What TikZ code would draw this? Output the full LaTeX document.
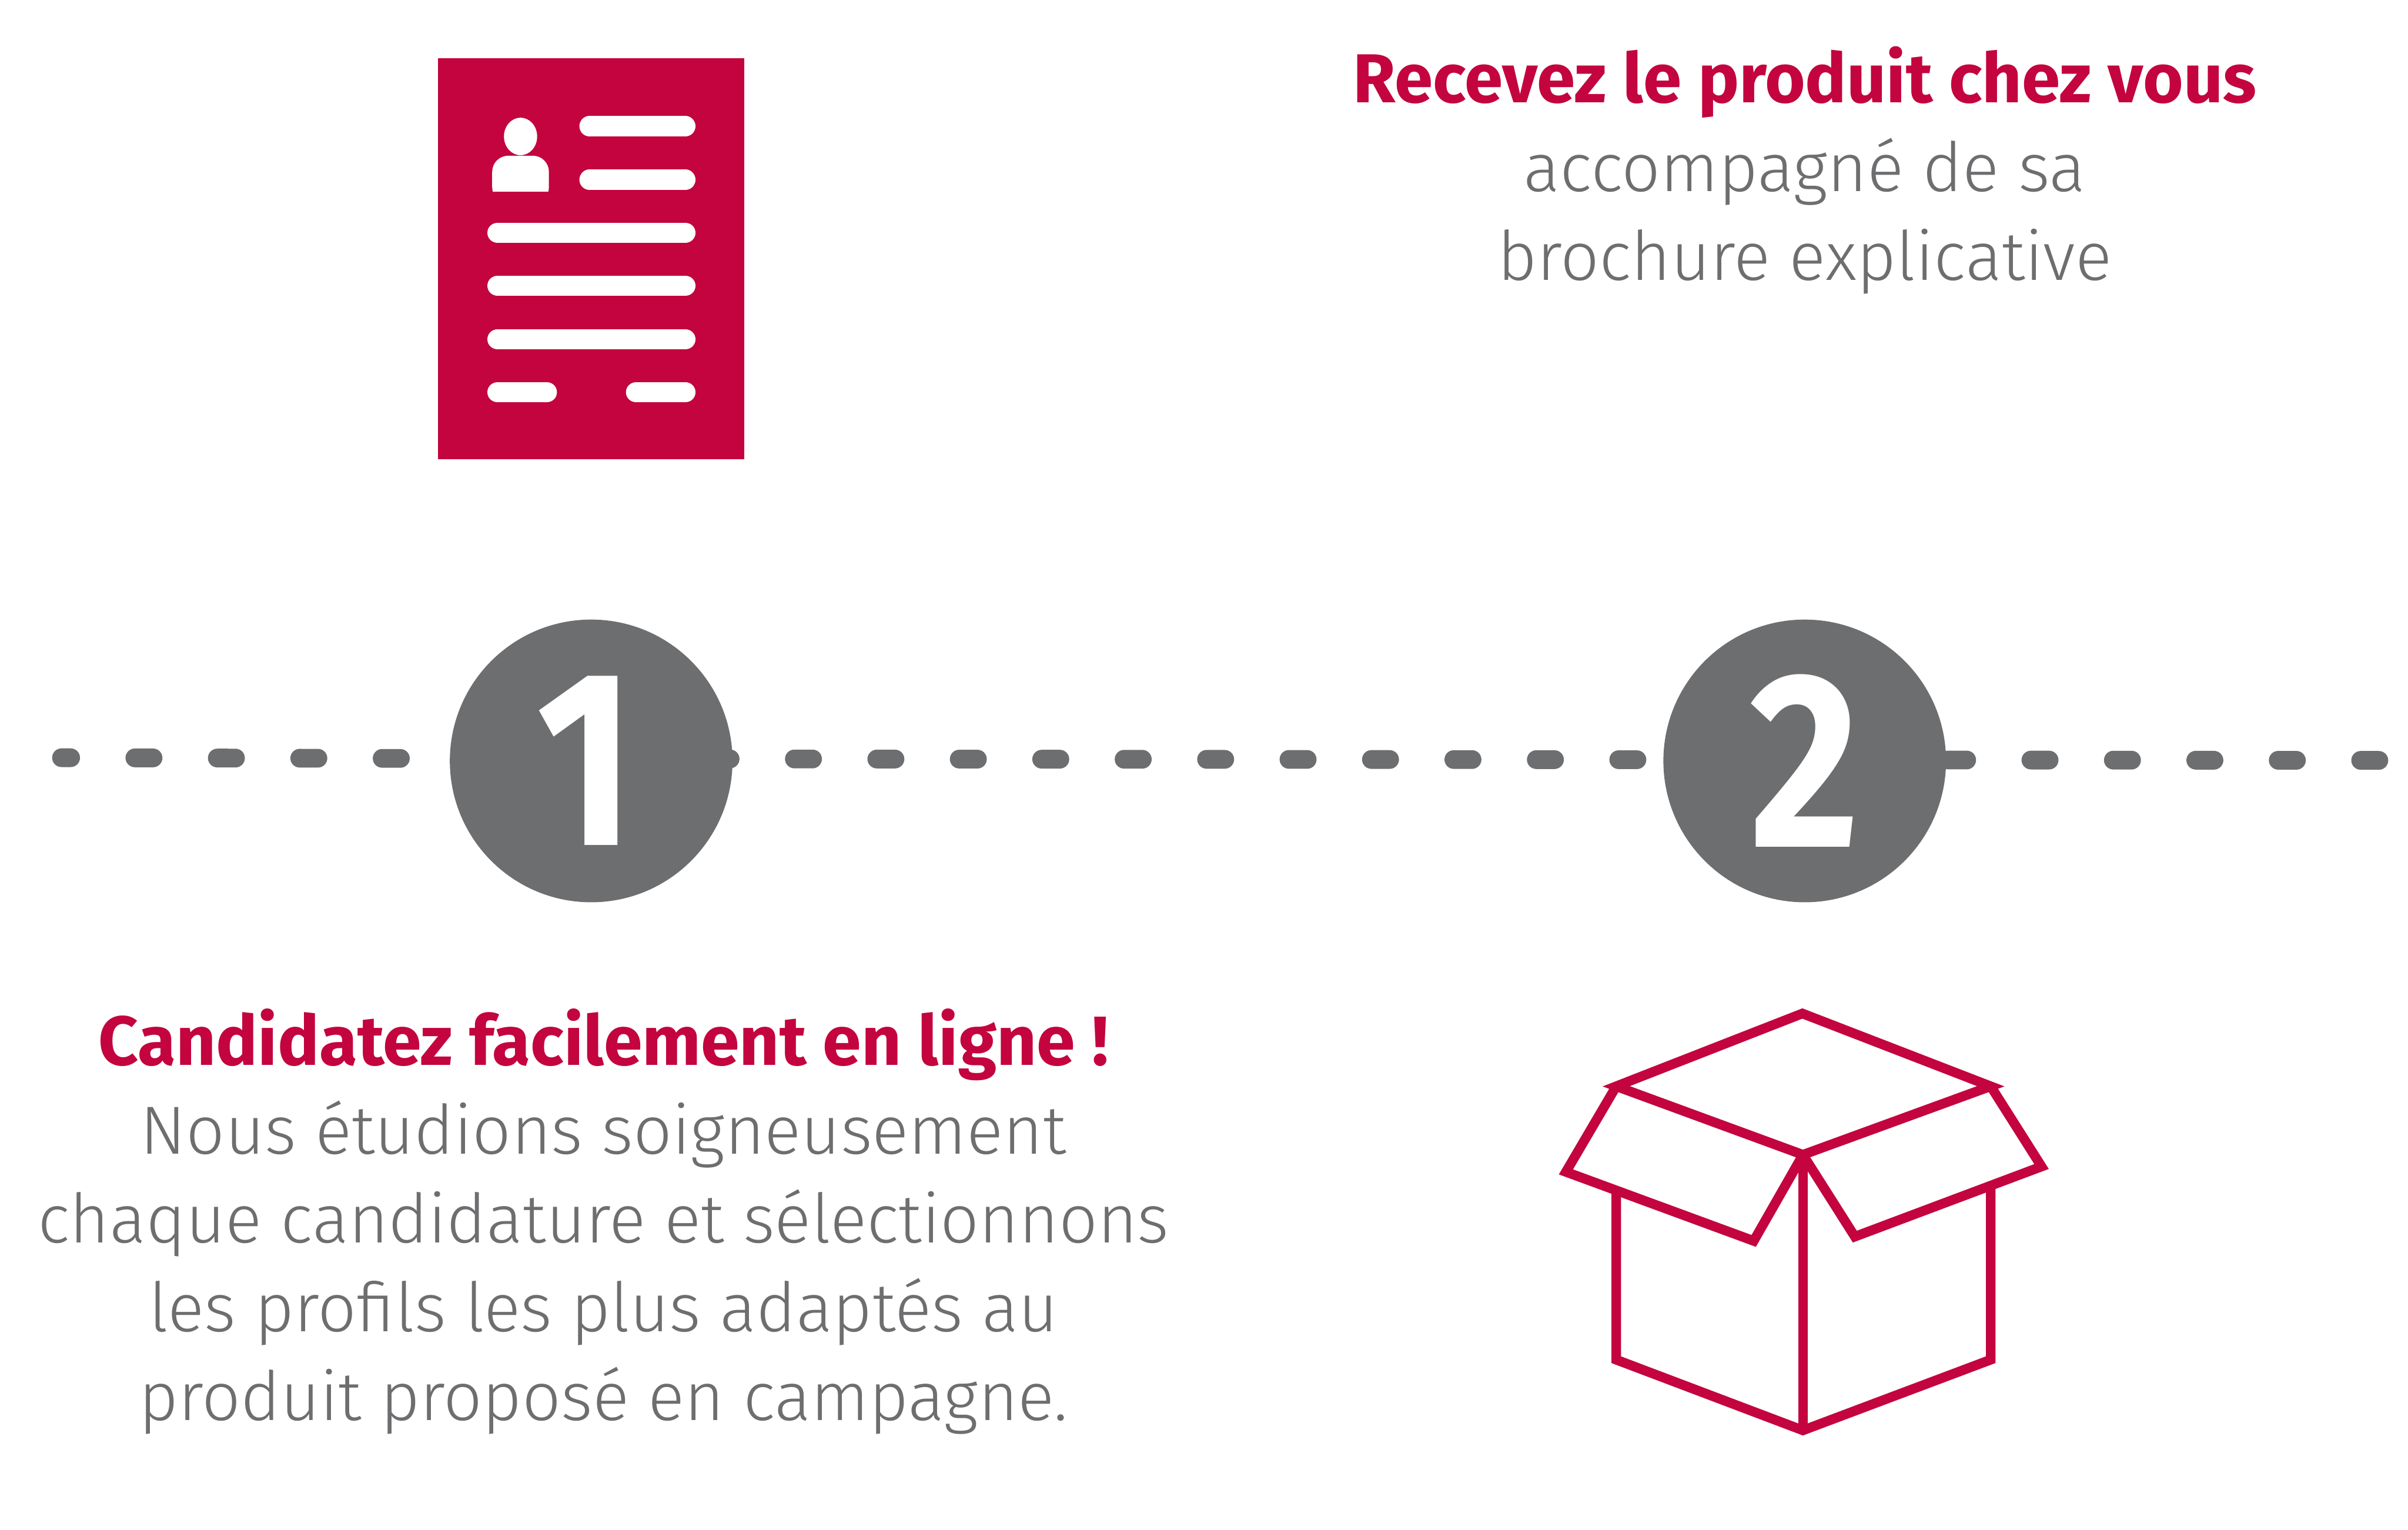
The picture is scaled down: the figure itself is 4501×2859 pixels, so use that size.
\documentclass[tikz,border=0pt]{standalone}
\usepackage{fontspec}
\setmainfont{Fira Sans Light}[BoldFont={Fira Sans Bold}]
\newfontfamily\digitfont{Fira Sans Bold}[FakeStretch=0.85]
\usetikzlibrary{backgrounds}
\definecolor{crimson}{HTML}{C3043E}
\definecolor{slate}{HTML}{6D6E70}
\begin{document}
\begin{tikzpicture}[x=0.01cm, y=-0.01cm, node distance=2cm]
  \tikzstyle{numdot} = [circle, minimum size=5.28cm, inner sep=0pt, fill=slate, text=white, font=\digitfont\fontsize{133}{133}\selectfont]
  \tikzstyle{sheet} = [rectangle, minimum width=5.73cm, minimum height=7.49cm, inner sep=0pt, fill=crimson]
  \tikzstyle{copy} = [text=slate, align=center, inner sep=0pt, font=\fontsize{36.2}{47.2}\selectfont]
  \tikzstyle{bar} = [white, line width=0.38cm, line cap=round]
  \tikzstyle{dotline} = [slate, line width=0.35cm, line cap=round, dash pattern=on 0.34cm off 1.2cm, dash phase=0.17cm]
  \tikzstyle{carton} = [crimson, line width=0.18cm, line join=miter]
  \useasboundingbox (0,0) rectangle (4501,2859);

  \node (one) [numdot] at (1105,1422) {\kern-6pt 1};
  \node (two) [numdot, right of=one, xshift=20.67cm] {2};
  \node (cv) [sheet, above of=one, yshift=7.375cm] {};
  \node (apply) [copy, below of=one, xshift=0.23cm, yshift=-6.6cm] {\textcolor{crimson}{\bfseries\fontsize{37}{47.2}\selectfont Candidatez facilement en ligne !}\\Nous étudions soigneusement\\chaque candidature et sélectionnons\\les profils les plus adaptés au\\produit proposé en campagne.};
  \node (receive) [copy, above of=two, yshift=9.03cm] {\textcolor{crimson}{\bfseries\fontsize{36.8}{47.2}\selectfont Recevez le produit chez vous}\\accompagné de sa\\brochure explicative};
  \coordinate (linestart) at (115,1416);
  \coordinate (lineend) at (4450,1421);
  \begin{scope}[on background layer]
    \draw [dotline] (linestart) -- ([yshift=0.04cm]one.center) -- ([yshift=0.02cm]two.center) -- (lineend);
  \end{scope}

  % sheet
  \foreach \y in {435,534,634} \draw [bar] (930,\y) -- (1281,\y);
  \foreach \y in {236,336} \draw [bar] (1102,\y) -- (1281,\y);
  \draw [bar] (930,733) -- (1022,733);
  \draw [bar] (1189,733) -- (1281,733);
  \fill [white] (973,255) ellipse [x radius=0.31cm, y radius=0.35cm];
  \fill [white, rounded corners=0.3cm] (920,380) -- (920,291) -- (1026,291) -- (1026,380) -- cycle;
  \fill [crimson] (915,358) rectangle (1031,385);

  % box
  \draw [carton] (3021,2030) -- (3369,1894) -- (3721,2030) -- (3370,2158) -- cycle;
  \draw [carton] (3021,2030) -- (2927,2190) -- (3278,2319) -- (3370,2158);
  \draw [carton] (3721,2030) -- (3816,2180) -- (3467,2311) -- (3370,2158);
  \draw [carton] (3021,2226) -- (3021,2541) -- (3370,2673) -- (3721,2541) -- (3721,2215);
  \draw [carton] (3370,2158) -- (3370,2673);
\end{tikzpicture}
\end{document}
